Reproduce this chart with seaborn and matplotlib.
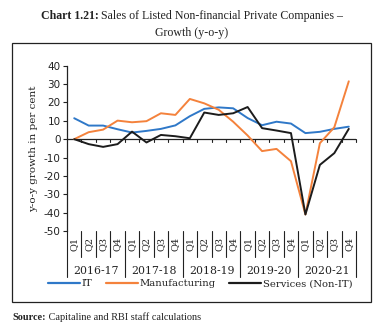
import matplotlib
matplotlib.use("Agg")
import matplotlib.pyplot as plt
import matplotlib.transforms as mtransforms
from matplotlib.lines import Line2D
import seaborn as sns
import pandas as pd
import numpy as np

years = ["2016-17", "2017-18", "2018-19", "2019-20", "2020-21"]
quarters = ["Q1", "Q2", "Q3", "Q4"]
it = [11.4, 7.4, 7.4, 5.4, 3.6, 4.5, 5.6, 7.5, 12.5, 16.5, 17.3, 16.8, 11.5, 7.6, 9.5, 8.5, 3.3, 4.0, 5.6, 6.8]
manufacturing = [0.0, 3.8, 5.2, 10.1, 9.2, 9.8, 14.1, 13.2, 21.9, 19.5, 16.0, 9.5, 2.0, -6.5, -5.3, -12.0, -41.0, -2.2, 6.5, 31.5]
services = [0.0, -2.7, -4.2, -2.7, 4.1, -1.8, 2.3, 1.6, 0.5, 14.5, 13.2, 14.1, 17.5, 6.0, 4.7, 3.3, -41.0, -14.0, -7.6, 5.6]
yticks = [40, 30, 20, 10, 0, -10, -20, -30, -40, -50]
series_names = ["IT", "Manufacturing", "Services (Non-IT)"]
colors = ["#2f78c8", "#f4823c", "#1c1c1c"]

sns.set_theme(style="white")
plt.rcParams["font.family"] = ["DejaVu Serif"]

n = len(years) * len(quarters)
idx = np.arange(n)
df = pd.DataFrame({
    "x": np.concatenate([idx, idx, idx]),
    "value": it + manufacturing + services,
    "series": np.repeat(series_names, n),
})

W, H = 382, 327
fig = plt.figure(figsize=(W / 100, H / 100), dpi=100)
ax = fig.add_axes([67 / W, 1 - 231 / H, (356 - 67) / W, (231 - 65.7) / H])

sns.lineplot(data=df, x="x", y="value", hue="series", palette=dict(zip(series_names, colors)),
             linewidth=1.4, ax=ax, legend=False, sort=False)

ax.set_xlim(-0.5, n - 0.5)
ax.set_ylim(-50, 40)
for s in ["top", "right", "bottom"]:
    ax.spines[s].set_visible(False)
ax.spines["left"].set_color("#222222")
ax.spines["left"].set_linewidth(0.9)
ax.set_yticks(yticks)
ax.set_yticklabels([str(v) for v in yticks], fontfamily="DejaVu Sans", fontsize=7.5, color="#222222")
ax.tick_params(axis="y", direction="out", length=3, width=0.8, color="#222222", pad=1.5, left=True)
ax.set_xticks([])
ax.set_xlabel("")
ax.set_ylabel("y-o-y growth in per cent", fontsize=7.5, color="#222222", labelpad=4)
ax.grid(False)

# zero axis line with tick marks
ax.axhline(0, color="#222222", lw=0.9, zorder=1)
for k in range(1, n + 1):
    ax.plot([k - 0.5, k - 0.5], [0, -1.4], color="#222222", lw=0.8, zorder=1, clip_on=False)

# category labels below
bt = mtransforms.blended_transform_factory(ax.transData, ax.transAxes)
axh = 231 - 65.7
for i in range(n):
    ax.text(i, -12.5 / axh, quarters[i % 4], rotation=90, ha="center", va="center",
            fontsize=7, transform=bt, color="#222222")
for k in range(n + 1):
    x = k - 0.5
    bottom = -46 / axh if k % 4 == 0 else -26 / axh
    ax.plot([x, x], [0, bottom], transform=bt, color="#222222", lw=0.8, clip_on=False)
for j, y in enumerate(years):
    ax.text(4 * j + 1.5, -40 / axh, y, ha="center", va="center", fontsize=7.8,
            transform=bt, color="#222222")

# legend
handles = [Line2D([], [], color=c, lw=1.6) for c in colors]
fig.legend(handles, series_names, loc="center", bbox_to_anchor=(200 / W, 1 - 284 / H), ncol=3,
           frameon=False, fontsize=7.2, handlelength=3.2, handletextpad=0.2, columnspacing=1.3,
           labelcolor="#222222")

# outer frame
fig.add_artist(plt.Rectangle((12 / W, 1 - 302 / H), (371 - 12) / W, (302 - 43) / H,
                             transform=fig.transFigure, fill=False, lw=0.9, ec="#222222"))

# title
renderer = fig.canvas.get_renderer()
tfam = ["Liberation Serif", "DejaVu Serif"]
t1b = fig.text(0, 1 - 16 / H, "Chart 1.21:", fontweight="bold", fontsize=8.6, va="center",
               color="#222222", family=tfam)
t1r = fig.text(0, 1 - 16 / H, " Sales of Listed Non-financial Private Companies \u2013", fontsize=8.6,
               va="center", color="#222222", family=tfam)
wb = t1b.get_window_extent(renderer).width
wr = t1r.get_window_extent(renderer).width
x0 = (192 - (wb + wr) / 2)
t1b.set_x(x0 / W)
t1r.set_x((x0 + wb) / W)
fig.text(192 / W, 1 - 33 / H, "Growth (y-o-y)", fontsize=8.6, ha="center", va="center",
         color="#222222", family=tfam)

# source
s1 = fig.text(12 / W, 1 - 317 / H, "Source:", fontweight="bold", fontsize=7.4, va="center",
              color="#222222", family=tfam)
ws = s1.get_window_extent(renderer).width
fig.text((12 + ws) / W, 1 - 317 / H, " Capitaline and RBI staff calculations", fontsize=7.4,
         va="center", color="#222222", family=tfam)

fig.savefig("out.png", dpi=100, facecolor="white")
